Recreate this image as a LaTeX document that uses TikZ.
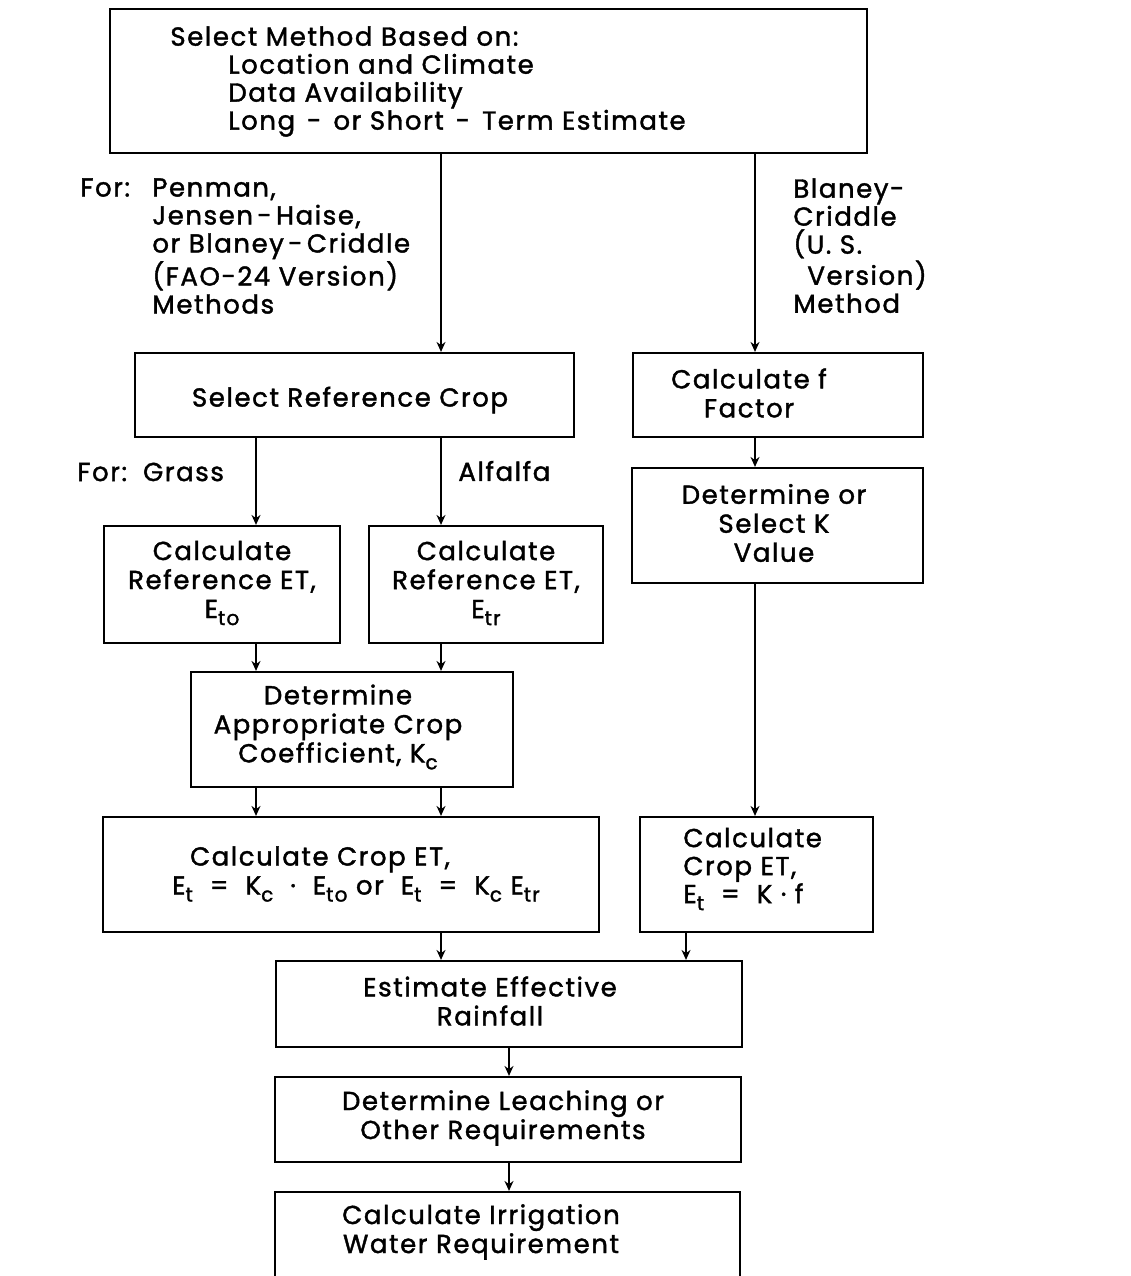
\documentclass[tikz,border=0pt]{standalone}
\usepackage{fontspec}
\setmainfont[LetterSpace=6, FakeBold=1.5]{Poppins}
\usetikzlibrary{fit,arrows.meta}
\newcommand{\lsub}[1]{\raisebox{-3.5pt}{\fontsize{10}{10}\selectfont #1}}

\begin{document}
\begin{tikzpicture}[
  x=0.5pt,
  y=-0.5pt
]

% styles
\tikzset{
  box/.style={draw=black, line width=1.1pt, inner sep=0pt},
  txt/.style={align=center, inner sep=0pt, font=\fontsize{13}{14.5}\selectfont},
  lbl/.style={align=left, inner sep=0pt, font=\fontsize{13}{14}\selectfont},
  arr/.style={line width=0.8pt, -{Stealth[length=5pt,width=4.5pt]}}
}

\clip (0,0) rectangle (1131,1276);
\fill[white] (0,0) rectangle (1131,1276);

% ===== boxes =====
\node[box, fit={(110,9) (867,153)}] (top) {};
\node[box, fit={(135,353) (574,437)}] (rcrop) {};
\node[box, fit={(104,526) (340,643)}] (eto) {};
\node[box, fit={(369,526) (603,643)}] (etr) {};
\node[box, fit={(191,672) (513,787)}] (kc) {};
\node[box, fit={(103,817) (599,932)}] (cet) {};
\node[box, fit={(633,353) (923,437)}] (ff) {};
\node[box, fit={(632,468) (923,583)}] (kv) {};
\node[box, fit={(640,817) (873,932)}] (cetr) {};
\node[box, fit={(276,961) (742,1047)}] (rain) {};
\node[box, fit={(275,1077) (741,1162)}] (leach) {};
\node[box, fit={(275,1192) (740,1300)}] (irr) {};

% ===== box texts =====
\node[lbl, anchor=north west] (top-t) at (170,26) {%
  Select Method Based on:\\
  \hspace*{29pt}Location and Climate\\
  \hspace*{29pt}Data Availability\\
  \hspace*{29pt}Long\hspace{6pt}-\hspace{6pt}or Short\hspace{6pt}-\hspace{6pt}Term Estimate};
\node[txt] (rcrop-t) at (350,400) {Select Reference Crop};
\node[txt] (eto-t) at (222,583) {Calculate\\Reference ET,\\E\lsub{to}};
\node[txt] (etr-t) at (486,583) {Calculate\\Reference ET,\\E\lsub{tr}};
\node[txt] (kc-t) at (338,727) {Determine\\Appropriate Crop\\Coefficient, K\lsub{c}};
\node[txt] (cet-t) at (356,874) {\hspace*{-36pt}Calculate Crop ET,\\
  E\lsub{t}\ \ =\ \ K\lsub{c}\ \ ·\ \ E\lsub{to}\ or\ \ E\lsub{t}\ \ =\ \ K\lsub{c}\ E\lsub{tr}};
\node[txt] (ff-t) at (749,393) {Calculate f\\Factor};
\node[txt] (kv-t) at (774,523) {Determine or\\Select K\\Value};
\node[lbl, anchor=west] (cetr-t) at (683,869) {Calculate\\Crop ET,\\E\lsub{t}\ \ =\ \ K · f};
\node[txt] (rain-t) at (490,1001) {Estimate Effective\\Rainfall};
\node[txt] (leach-t) at (503,1118) {Determine Leaching or\\Other Requirements};
\node[txt] (irr-t) at (481,1232) {Calculate Irrigation\\Water Requirement};

% ===== side labels =====
\node[lbl, anchor=north west] (pen) at (80,178) {%
  \makebox[36pt][l]{For:}Penman,\\
  \hspace*{36pt}Jensen\,-\,Haise,\\
  \hspace*{36pt}or Blaney\,-\,Criddle\\
  \hspace*{36pt}(FAO-24 Version)\\
  \hspace*{36pt}Methods};
\node[lbl, anchor=north west] (bc) at (793,178) {%
  Blaney-\\Criddle\\(U.\ S.\\\hspace*{7pt}Version)\\Method};
\node[lbl, anchor=west] (grass) at (77,472) {For:\hspace*{8pt}Grass};
\node[lbl, anchor=west] (alf) at (458,471) {Alfalfa};

% ===== connectors =====
\coordinate (cL) at (256,0);
\coordinate (cM) at (441,0);
\coordinate (cR) at (755,0);
\coordinate (cS) at (686,0);
\coordinate (cC) at (509,0);
\foreach \a/\b/\c in {
  top/rcrop/cM, top/ff/cR, rcrop/eto/cL, rcrop/etr/cM,
  eto/kc/cL, etr/kc/cM, kc/cet/cL, kc/cet/cM,
  ff/kv/cR, kv/cetr/cR, cet/rain/cM, cetr/rain/cS,
  rain/leach/cC, leach/irr/cC%
} {
  \draw[arr] (\a.south -| \c) -- (\b.north -| \c);
}

\end{tikzpicture}
\end{document}
